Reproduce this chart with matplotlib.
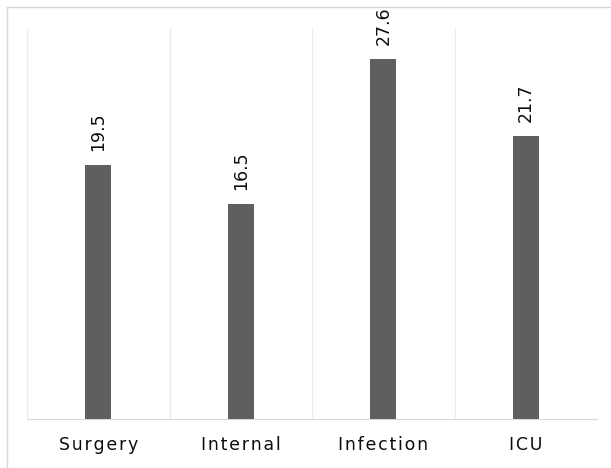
import numpy as np
import matplotlib
matplotlib.use("Agg")
import matplotlib.pyplot as plt
from matplotlib.lines import Line2D

categories = ["Surgery", "Internal", "Infection", "ICU"]
values = [19.5, 16.5, 27.6, 21.7]

BAR = "#5f5f5f"
GRID = "#ececec"
W, H = 611, 468

fig = plt.figure(figsize=(W / 100, H / 100), dpi=100)
# chart-area border: only the top and left edges are visible (cropped screenshot)
fig.lines.append(Line2D([6.5 / W, 1.0], [1 - 7 / H, 1 - 7 / H], transform=fig.transFigure,
                        color="#d9d9d9", lw=1.0))
fig.lines.append(Line2D([6.5 / W, 6.5 / W], [0.0, 1 - 7 / H], transform=fig.transFigure,
                        color="#d9d9d9", lw=1.0))
ax = fig.add_axes([27 / W, 49 / H, 570 / W, 391 / H])

x = np.arange(len(categories))
ax.bar(x, values, width=0.18, color=BAR, zorder=3)
for xi, v in zip(x, values):
    ax.annotate(f"{v:.1f}", (xi, v), xytext=(0, 10), textcoords="offset points",
                rotation=90, ha="center", va="bottom", fontsize=12.5, color="#0d0d0d")

ax.set_xlim(-0.5, len(categories) - 0.5)
ax.set_ylim(0, 30)
for b in np.arange(-0.5, len(categories), 1.0):
    ax.axvline(b, color=GRID, lw=1.0, zorder=1)

ax.set_xticks(x)
ax.set_xticklabels(["\u200a".join(c) for c in categories], fontsize=12.5, color="#0d0d0d")
ax.tick_params(axis="x", length=0, pad=12)
ax.set_yticks([])
for s in ("top", "right", "left"):
    ax.spines[s].set_visible(False)
ax.spines["bottom"].set_color("#d9d9d9")

fig.savefig("out.png", dpi=100)
